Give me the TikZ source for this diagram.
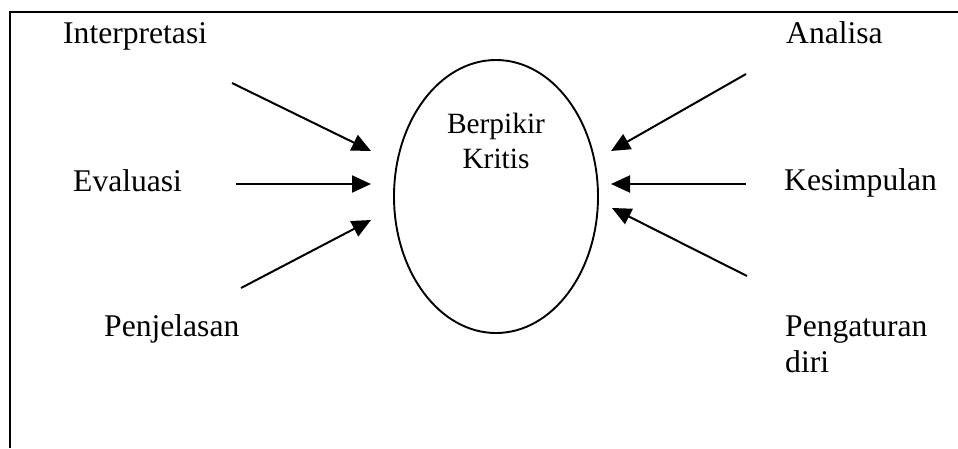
\documentclass[tikz,border=0pt]{standalone}
\usepackage{fontspec}
\setmainfont{Liberation Serif}
\usetikzlibrary{arrows.meta,shapes.geometric}

\tikzset{
  lbl/.style={inner sep=0pt, anchor=base west, font=\fontsize{31.6}{36.5}\selectfont},
  into/.style={line width=2pt, -{Triangle[length=19pt,width=17pt]}},
  core/.style={draw, ellipse, line width=1.9pt, minimum width=204pt, minimum height=273pt, inner sep=0pt}
}

\begin{document}
\begin{tikzpicture}[x=1pt,y=-1pt]
  \useasboundingbox (0,0) rectangle (958,448);

  % open frame: top and left edges only
  \draw[line width=1.8pt] (10,448) -- (10,12) -- (958,12);

  % central ellipse and its caption
  \node[core] (bk) at (496,196.5) {};
  \node[inner sep=0pt, anchor=base, align=center,
        font=\fontsize{29.4}{35}\selectfont] (bkt) at (496,168) {Berpikir\\Kritis};

  % surrounding labels
  \node[lbl] (interp) at (63,43)   {Interpretasi};
  \node[lbl] (eval)   at (73,191)  {Evaluasi};
  \node[lbl] (penj)   at (104,336) {Penjelasan};
  \node[lbl] (anal)   at (786,43)  {Analisa};
  \node[lbl] (kesim)  at (784,190) {Kesimpulan};
  % a two-line node sits on the baseline of its last line
  \node[lbl, align=left] (peng) at (785,372.5) {Pengaturan\\diri};

  % arrow ends
  \coordinate (l1s) at (232,83);   \coordinate (l1e) at (371,151);
  \coordinate (l2s) at (236,184);  \coordinate (l2e) at (371,184);
  \coordinate (l3s) at (241,288);  \coordinate (l3e) at (371,220);
  \coordinate (r1s) at (746,74);   \coordinate (r1e) at (611,151);
  \coordinate (r2s) at (746,184);  \coordinate (r2e) at (611,184);
  \coordinate (r3s) at (747,276);  \coordinate (r3e) at (612,208);

  \draw[into] (l1s) -- (l1e);
  \draw[into] (l2s) -- (l2e);
  \draw[into] (l3s) -- (l3e);
  \draw[into] (r1s) -- (r1e);
  \draw[into] (r2s) -- (r2e);
  \draw[into] (r3s) -- (r3e);
\end{tikzpicture}
\end{document}
